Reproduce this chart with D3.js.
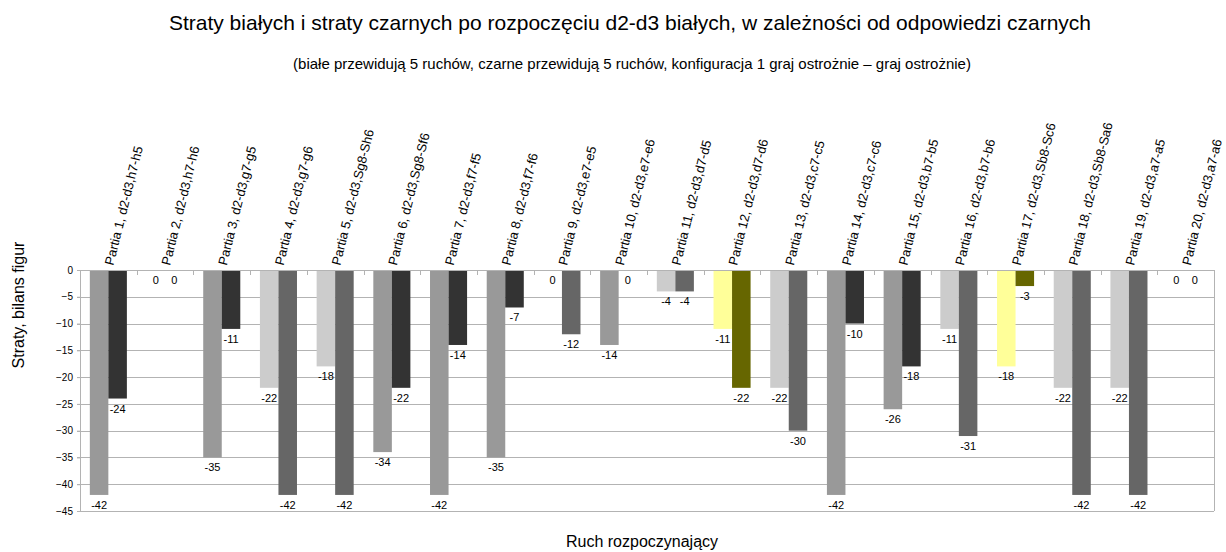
<!DOCTYPE html>
<html>
<head>
<meta charset="utf-8">
<script src="https://cdn.jsdelivr.net/npm/d3@7"></script>
<style>
    body { margin: 0; background: #fff; }
    text { font-family: "Liberation Sans", Arial, sans-serif; fill: #000; }
    .grid { stroke: #b3b3b3; stroke-width: 1; shape-rendering: crispEdges; }
</style>
</head>
<body>
<script>
"use strict";

// ruchy (kategorie osi X)
let partie = [
    "Partia 1, d2-d3,h7-h5", "Partia 2, d2-d3,h7-h6", "Partia 3, d2-d3,g7-g5",
    "Partia 4, d2-d3,g7-g6", "Partia 5, d2-d3,Sg8-Sh6", "Partia 6, d2-d3,Sg8-Sf6",
    "Partia 7, d2-d3,f7-f5", "Partia 8, d2-d3,f7-f6", "Partia 9, d2-d3,e7-e5",
    "Partia 10, d2-d3,e7-e6", "Partia 11, d2-d3,d7-d5", "Partia 12, d2-d3,d7-d6",
    "Partia 13, d2-d3,c7-c5", "Partia 14, d2-d3,c7-c6", "Partia 15, d2-d3,b7-b5",
    "Partia 16, d2-d3,b7-b6", "Partia 17, d2-d3,Sb8-Sc6", "Partia 18, d2-d3,Sb8-Sa6",
    "Partia 19, d2-d3,a7-a5", "Partia 20, d2-d3,a7-a6"
];

let stratyBialych = [-42, 0, -35, -22, -18, -34, -42, -35, 0, -14, -4, -11, -22, -42, -26, -11, -18, -22, -22, 0];
let stratyCzarnych = [-24, 0, -11, -42, -42, -22, -14, -7, -12, 0, -4, -22, -30, -10, -18, -31, -3, -42, -42, 0];

// typ partii: A - biale traca wiecej, B - czarne traca wiecej, C - wyrozniona
let typPartii = ["A", "A", "A", "B", "B", "A", "A", "A", "B", "A", "B", "C", "B", "A", "A", "B", "C", "B", "B", "A"];

let yTicks = [0, -5, -10, -15, -20, -25, -30, -35, -40, -45];

let width = 1226,
    height = 552,
    plotLeft = 80,
    plotRight = 1214,
    plotTop = 270,
    plotBottom = 511;

let svg = d3.select("body")
    .append("svg")
    .attr("width", width)
    .attr("height", height);

let x = d3.scaleBand()
    .domain(partie)
    .range([plotLeft, plotRight])
    .padding(0);

let xSeria = d3.scaleBand()
    .domain(["biale", "czarne"])
    .range([0, x.bandwidth()])
    .paddingInner(0)
    .paddingOuter(0.53);

let y = d3.scaleLinear()
    .domain([-45, 0])
    .range([plotBottom, plotTop]);

let kolorBiale = d3.scaleOrdinal()
    .domain(["A", "B", "C"])
    .range(["#999999", "#cccccc", "#ffff99"]);

let kolorCzarne = d3.scaleOrdinal()
    .domain(["A", "B", "C"])
    .range(["#333333", "#666666", "#666600"]);

let data = partie.map(function (p, i) {
    return {
        partia: p,
        typ: typPartii[i],
        wartosci: [
            { seria: "biale", v: stratyBialych[i] },
            { seria: "czarne", v: stratyCzarnych[i] }
        ]
    };
});

/* siatka */
svg.selectAll("line.gridline")
    .data(yTicks.filter(function (d) { return d !== 0; }))
    .enter().append("line")
    .attr("class", "grid")
    .attr("x1", plotLeft - 3)
    .attr("x2", plotRight)
    .attr("y1", function (d) { return Math.round(y(d)) + 0.5; })
    .attr("y2", function (d) { return Math.round(y(d)) + 0.5; });

// os Y
let yAxis = svg.append("g")
    .attr("transform", "translate(" + plotLeft + ",0)")
    .call(d3.axisLeft(y).tickValues(yTicks).tickSize(3).tickPadding(4));
yAxis.select(".domain").attr("stroke", "#b3b3b3");
yAxis.selectAll(".tick line").attr("stroke", "#b3b3b3");
yAxis.selectAll(".tick text")
    .style("font-size", "10px")
    .style("font-family", "Liberation Sans, Arial, sans-serif");

// prawa krawedz
svg.append("line")
    .attr("class", "grid")
    .attr("x1", plotRight + 0.5).attr("x2", plotRight + 0.5)
    .attr("y1", plotTop).attr("y2", plotBottom);

/* slupki */
let grupy = svg.selectAll("g.partia")
    .data(data)
    .enter().append("g")
    .attr("class", "partia")
    .attr("transform", function (d) { return "translate(" + x(d.partia) + ",0)"; });

grupy.selectAll("rect")
    .data(function (d) {
        return d.wartosci
            .filter(function (w) { return w.v !== 0; })
            .map(function (w) { return { seria: w.seria, v: w.v, typ: d.typ }; });
    })
    .enter().append("rect")
    .attr("x", function (d) { return xSeria(d.seria); })
    .attr("width", xSeria.bandwidth())
    .attr("y", y(0))
    .attr("height", function (d) { return y(d.v) - y(0); })
    .attr("fill", function (d) {
        return d.seria === "biale" ? kolorBiale(d.typ) : kolorCzarne(d.typ);
    });

// etykiety wartosci
grupy.selectAll("text.wartosc")
    .data(function (d) { return d.wartosci; })
    .enter().append("text")
    .attr("class", "wartosc")
    .attr("x", function (d) { return xSeria(d.seria) + xSeria.bandwidth() / 2; })
    .attr("y", function (d) { return y(d.v) + 14; })
    .attr("text-anchor", "middle")
    .style("font-size", "11px")
    .text(function (d) { return d.v; });

// os X na gorze (y = 0)
let xAxis = svg.append("g")
    .attr("transform", "translate(0," + y(0) + ")");
xAxis.append("line")
    .attr("class", "grid")
    .attr("x1", plotLeft).attr("x2", plotRight)
    .attr("y1", 0.5).attr("y2", 0.5);
xAxis.selectAll("line.tick")
    .data(partie.slice(1))
    .enter().append("line")
    .attr("class", "grid")
    .attr("x1", function (d) { return Math.round(x(d)) + 0.5; })
    .attr("x2", function (d) { return Math.round(x(d)) + 0.5; })
    .attr("y1", 0)
    .attr("y2", 5);

// opisy partii
svg.selectAll("text.opis")
    .data(partie)
    .enter().append("text")
    .attr("class", "opis")
    .attr("transform", function (d) {
        return "translate(" + (x(d) + x.bandwidth() / 2 + 5) + "," + (plotTop - 4) + ") rotate(-76)";
    })
    .style("font-size", "13px")
    .text(function (d) { return d; });

/* tytuly */
svg.append("text")
    .attr("x", 630)
    .attr("y", 30)
    .attr("text-anchor", "middle")
    .style("font-size", "21px")
    .text("Straty białych i straty czarnych po rozpoczęciu d2-d3 białych, w zależności od odpowiedzi czarnych");

svg.append("text")
    .attr("x", 632)
    .attr("y", 69)
    .attr("text-anchor", "middle")
    .style("font-size", "15px")
    .text("(białe przewidują 5 ruchów, czarne przewidują 5 ruchów, konfiguracja 1 graj ostrożnie – graj ostrożnie)");

svg.append("text")
    .attr("transform", "translate(24," + 305 + ") rotate(-90)")
    .attr("text-anchor", "middle")
    .style("font-size", "16px")
    .text("Straty, bilans figur");

svg.append("text")
    .attr("x", 642)
    .attr("y", 547)
    .attr("text-anchor", "middle")
    .style("font-size", "16px")
    .text("Ruch rozpoczynający");
</script>
</body>
</html>
